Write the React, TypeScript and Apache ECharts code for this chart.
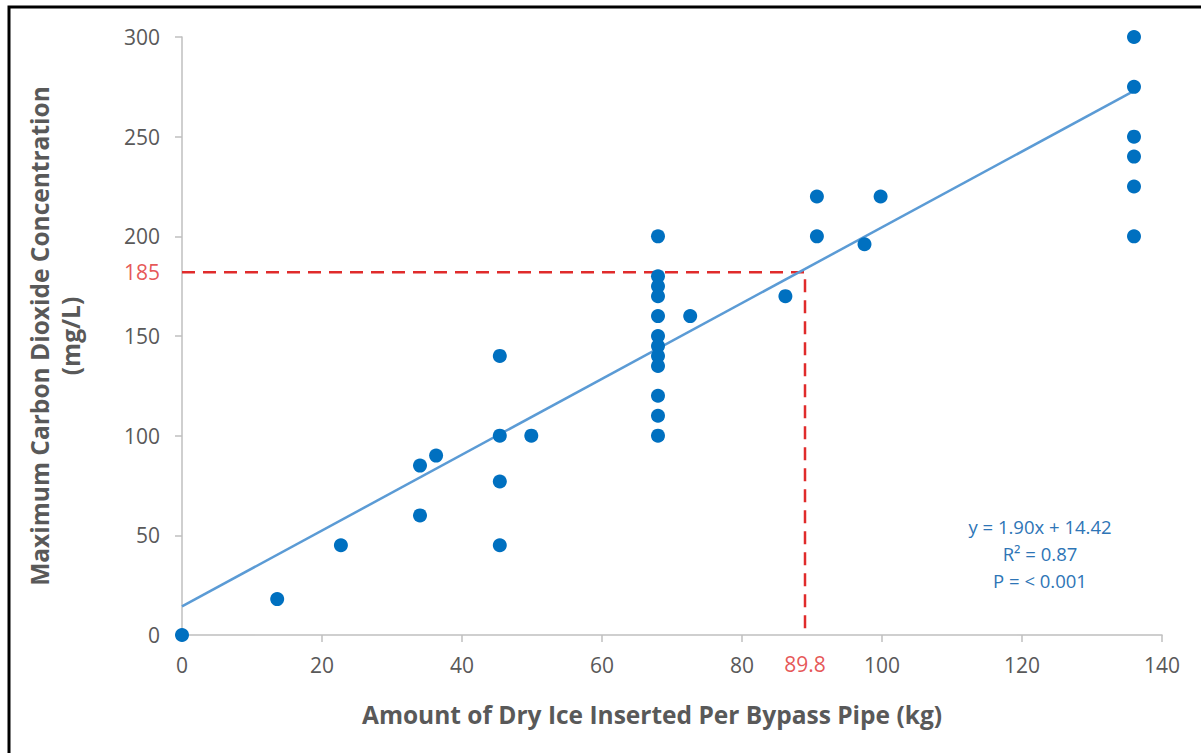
import React, { useEffect, useRef } from "react";
import * as echarts from "echarts";

// Observations: [dry ice (kg), max CO2 (mg/L)]
const dryIceKg: number[] = [
  0, 13.6, 22.7, 34, 34, 36.3, 45.4, 45.4, 45.4, 45.4, 49.9,
  68, 68, 68, 68, 68, 68, 68, 68, 68, 68, 68, 68,
  72.6, 86.2, 90.7, 90.7, 97.5, 99.8,
  136, 136, 136, 136, 136, 136,
];
const maxCO2: number[] = [
  0, 18, 45, 85, 60, 90, 140, 100, 77, 45, 100,
  200, 180, 175, 170, 160, 150, 145, 140, 135, 120, 110, 100,
  160, 170, 220, 200, 196, 220,
  300, 275, 250, 240, 225, 200,
];

// Trend line endpoints (y = 1.90x + 14.42)
const trendX: number[] = [0, 136];
const trendY: number[] = [14.4, 273];

// Reference (dashed) guide
const refX = 89;
const refY = 182;
const refXLabel = "89.8";
const refYLabel = "185";

const xTicks = { min: 0, max: 140, interval: 20 };
const yTicks = { min: 0, max: 300, interval: 50 };

const equationLines: string[] = ["y = 1.90x + 14.42", "R² = 0.87", "P = < 0.001"];

const FONT = "'Open Sans', Lato, sans-serif";
const GRAY = "#595959";
const BLUE = "#0070c0";
const RED = "#e02b2b";

export default function App() {
  const ref = useRef<HTMLDivElement>(null);
  useEffect(() => {
    document.body.style.margin = "0";
    if (!ref.current) return;
    const chart = echarts.init(ref.current, undefined, { renderer: "svg" });
    const points = dryIceKg.map((x, i) => [x, maxCO2[i]]);
    const trend = trendX.map((x, i) => [x, trendY[i]]);
    chart.setOption({
      animation: false,
      backgroundColor: "#ffffff",
      textStyle: { fontFamily: FONT },
      grid: { left: 182, right: 39, top: 37, bottom: 118, containLabel: false },
      xAxis: {
        type: "value",
        min: xTicks.min,
        max: xTicks.max,
        interval: xTicks.interval,
        name: "Amount of Dry Ice Inserted Per Bypass Pipe (kg)",
        nameLocation: "middle",
        nameGap: 67,
        nameTextStyle: {
          fontFamily: FONT,
          fontSize: 24.5,
          fontWeight: "bold",
          color: GRAY,
          padding: [0, 40, 0, 0],
        },
        axisLine: { show: true, lineStyle: { color: "#bfbfbf", width: 1.5 } },
        axisTick: { show: true, inside: false, length: 7, lineStyle: { color: "#bfbfbf", width: 1.5 } },
        axisLabel: { color: GRAY, fontSize: 21, margin: 19, fontFamily: FONT },
        splitLine: { show: false },
      },
      yAxis: {
        type: "value",
        min: yTicks.min,
        max: yTicks.max,
        interval: yTicks.interval,
        name: "Maximum Carbon Dioxide Concentration\n(mg/L)",
        nameLocation: "middle",
        nameGap: 96,
        nameTextStyle: {
          fontFamily: FONT,
          fontSize: 24.5,
          fontWeight: "bold",
          color: GRAY,
          lineHeight: 31,
        },
        axisLine: { show: true, lineStyle: { color: "#bfbfbf", width: 1.5 } },
        axisTick: { show: true, inside: false, length: 7, lineStyle: { color: "#bfbfbf", width: 1.5 } },
        axisLabel: { color: GRAY, fontSize: 21, margin: 22, fontFamily: FONT },
        splitLine: { show: false },
      },
      series: [
        {
          name: "guide",
          type: "line",
          data: [[xTicks.min, refY], [refX, refY], [refX, yTicks.min]],
          symbol: "none",
          lineStyle: { color: RED, width: 2.5, type: [13, 8] },
          z: 1,
        },
        {
          name: "trend",
          type: "line",
          data: trend,
          symbol: "none",
          lineStyle: { color: "#5b9bd5", width: 2.5 },
          z: 2,
        },
        {
          name: "obs",
          type: "scatter",
          data: points,
          symbolSize: 14,
          itemStyle: { color: BLUE, opacity: 1 },
          z: 3,
        },
        {
          name: "refLabels",
          type: "scatter",
          symbolSize: 0,
          silent: true,
          data: [
            {
              value: [xTicks.min, refY],
              label: { show: true, formatter: refYLabel, position: "left", distance: 22 },
            },
            {
              value: [refX, yTicks.min],
              label: { show: true, formatter: refXLabel, position: "bottom", distance: 18 },
            },
          ],
          label: { color: RED, fontSize: 21, fontFamily: FONT },
          z: 4,
        },
      ],
      graphic: [
        {
          type: "rect",
          shape: { x: 9, y: 7, width: 1400, height: 1000 },
          style: { fill: "none", stroke: "#000000", lineWidth: 3 },
          silent: true,
        },
        ...equationLines.map((t, i) => ({
          type: "text",
          x: 1040,
          y: [526, 553, 580][i],
          style: {
            text: t,
            fill: "#2e75b6",
            font: `18.5px ${FONT}`,
            lineHeight: 24,
            textAlign: "center",
            textVerticalAlign: "middle",
          },
        })),
      ],
    });
    return () => chart.dispose();
  }, []);
  return <div ref={ref} style={{ width: 1201, height: 753 }} />;
}
